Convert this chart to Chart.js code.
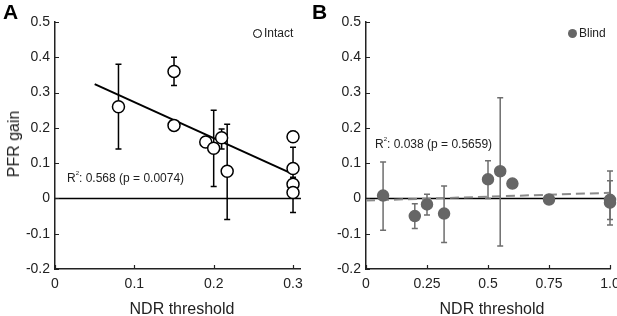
<!DOCTYPE html>
<html>
<head>
<meta charset="utf-8">
<script src="https://cdn.jsdelivr.net/npm/chart.js@4.4.1/dist/chart.umd.min.js"></script>
<style>
  html, body { margin: 0; padding: 0; background: #fff; overflow: hidden; }
  body { width: 617px; height: 316px; position: relative; font-family: "Liberation Sans", Arial, Helvetica, sans-serif; color: #222; }
  canvas { position: absolute; top: 0; }
  #chartA { left: 0; }
  #chartB { left: 310px; }
  .txt { position: absolute; white-space: nowrap; line-height: 1; }
  .letter { font-weight: bold; font-size: 21px; color: #000; }
  .title { font-size: 16px; }
  .ylab { transform: translate(-50%, -50%) rotate(-90deg); }
  .xlab { transform: translate(-50%, -50%); }
  .stat { font-size: 12px; }
  .stat sup { font-size: 6px; vertical-align: 7px; }
  .leg { font-size: 12px; }
  .mk { display: inline-block; width: 9px; height: 9px; border-radius: 50%; margin-right: 2px; vertical-align: -1px; }
</style>
</head>
<body>
<canvas id="chartA" width="310" height="316"></canvas>
<canvas id="chartB" width="317" height="316"></canvas>

<div class="txt letter" style="left:3px; top:1px;">A</div>
<div class="txt letter" style="left:312px; top:1px;">B</div>
<div class="txt title ylab" style="left:14px; top:144px;">PFR gain</div>
<div class="txt title xlab" style="left:182px; top:309px;">NDR threshold</div>
<div class="txt title xlab" style="left:492px; top:309px;">NDR threshold</div>
<div class="txt stat" style="left:67px; top:170px;">R<sup>2</sup>: 0.568 (p = 0.0074)</div>
<div class="txt stat" style="left:375px; top:136px;">R<sup>2</sup>: 0.038 (p = 0.5659)</div>
<div class="txt leg" style="left:253px; top:27px;"><span class="mk" style="border:1.3px solid #000; width:7px; height:7px;"></span>Intact</div>
<div class="txt leg" style="left:568px; top:27px;"><span class="mk" style="background:#666;"></span>Blind</div>

<script>
// Panel A - Intact
const intactX  = [0.08, 0.15, 0.15, 0.19, 0.20, 0.21, 0.217, 0.30, 0.30, 0.30, 0.30];
const intactY  = [0.26, 0.36, 0.207, 0.16, 0.142, 0.172, 0.077, 0.175, 0.085, 0.04, 0.017];
const intactLo = [0.14, 0.32, null, 0.145, 0.034, 0.14, -0.06, 0.16, 0.02, null, -0.04];
const intactHi = [0.38, 0.40, null, 0.175, 0.25, 0.197, 0.21, 0.19, 0.145, null, 0.06];
const fitAX = [0.05, 0.30];
const fitAY = [0.324, 0.069];
const xTicksA = [0, 0.1, 0.2, 0.3];
const xLabelsA = ['0', '0.1', '0.2', '0.3'];

// Panel B - Blind
const blindX  = [0.07, 0.20, 0.25, 0.32, 0.50, 0.55, 0.60, 0.75, 1.0, 1.0];
const blindY  = [0.008, -0.05, -0.017, -0.043, 0.054, 0.077, 0.042, -0.003, -0.004, -0.012];
const blindLo = [-0.09, -0.085, -0.047, -0.125, 0.0, -0.135, null, null, -0.06, -0.075];
const blindHi = [0.103, -0.015, 0.012, 0.035, 0.107, 0.285, null, null, 0.078, 0.05];
const fitBX = [0, 1.0];
const fitBY = [-0.006, 0.016];
const xTicksB = [0, 0.25, 0.5, 0.75, 1.0];
const xLabelsB = ['0', '0.25', '0.5', '0.75', '1.0'];

// Shared y axis
const yTicks = [-0.2, -0.1, 0, 0.1, 0.2, 0.3, 0.4, 0.5];
const yLabels = ['-0.2', '-0.1', '0', '0.1', '0.2', '0.3', '0.4', '0.5'];

const FONT = { family: '"Liberation Sans", Arial, Helvetica, sans-serif', size: 14 };
const AXIS_COLOR = '#222';

const pts = (xs, ys) => xs.map((x, i) => ({ x, y: ys[i] }));

// Error bars drawn just before the marker dataset
const errorBars = {
    id: 'errorBars',
    beforeDatasetDraw(chart, args, opts) {
        if (args.index !== 0) return;
        const { ctx, scales: { x, y } } = chart;
        ctx.save();
        ctx.strokeStyle = opts.color;
        ctx.lineWidth = 1.5;
        opts.xs.forEach((xv, i) => {
            if (opts.lo[i] == null) return;
            const px = x.getPixelForValue(xv);
            const p1 = y.getPixelForValue(opts.lo[i]);
            const p2 = y.getPixelForValue(opts.hi[i]);
            ctx.beginPath();
            ctx.moveTo(px, p1); ctx.lineTo(px, p2);
            ctx.moveTo(px - 3, p1); ctx.lineTo(px + 3, p1);
            ctx.moveTo(px - 3, p2); ctx.lineTo(px + 3, p2);
            ctx.stroke();
        });
        ctx.restore();
    }
};

// Inward tick marks
const innerTicks = {
    id: 'innerTicks',
    afterDraw(chart) {
        const { ctx, chartArea, scales: { x, y } } = chart;
        ctx.save();
        ctx.strokeStyle = AXIS_COLOR;
        ctx.lineWidth = 1.2;
        ctx.beginPath();
        y.ticks.forEach(t => {
            const py = Math.round(y.getPixelForValue(t.value)) + 0.5;
            ctx.moveTo(chartArea.left, py); ctx.lineTo(chartArea.left + 4, py);
        });
        x.ticks.forEach(t => {
            const px = Math.round(x.getPixelForValue(t.value)) + 0.5;
            ctx.moveTo(px, chartArea.bottom); ctx.lineTo(px, chartArea.bottom - 4);
        });
        ctx.stroke();
        ctx.restore();
    }
};

function makeChart(id, cfg) {
    return new Chart(document.getElementById(id), {
        type: 'scatter',
        data: {
            datasets: [
                {
                    data: pts(cfg.xs, cfg.ys), order: 0, clip: false,
                    pointRadius: cfg.radius, pointBackgroundColor: cfg.fill,
                    pointBorderColor: cfg.stroke, pointBorderWidth: 1.5
                },
                {
                    type: 'line', data: pts(cfg.fitX, cfg.fitY), order: 1, clip: false,
                    borderColor: cfg.fitColor, borderWidth: 2, borderDash: cfg.fitDash,
                    pointRadius: 0, fill: false
                },
                {
                    type: 'line', data: pts([cfg.xMin, cfg.xMax], [0, 0]), order: 2,
                    borderColor: '#000', borderWidth: 1.5, pointRadius: 0, fill: false
                }
            ]
        },
        options: {
            responsive: false,
            animation: false,
            layout: { padding: { top: 22, right: cfg.padRight, bottom: 0, left: 0 } },
            plugins: {
                legend: { display: false },
                tooltip: { enabled: false },
                errorBars: { xs: cfg.xs, lo: cfg.lo, hi: cfg.hi, color: cfg.errColor }
            },
            scales: {
                x: {
                    type: 'linear', min: cfg.xMin, max: cfg.xMax,
                    grid: { display: false, drawTicks: false },
                    border: { display: true, color: AXIS_COLOR, width: 1.5 },
                    ticks: { font: FONT, color: AXIS_COLOR, padding: 7, maxRotation: 0,
                             callback: (v, i) => cfg.xLabels[i] },
                    afterBuildTicks: s => { s.ticks = cfg.xTicks.map(v => ({ value: v })); },
                    afterFit: s => { s.height = 47; }
                },
                y: {
                    type: 'linear', min: -0.2, max: 0.5,
                    grid: { display: false, drawTicks: false },
                    border: { display: true, color: AXIS_COLOR, width: 1.5 },
                    ticks: { font: FONT, color: AXIS_COLOR, padding: 5,
                             callback: (v, i) => yLabels[i] },
                    afterBuildTicks: s => { s.ticks = yTicks.map(v => ({ value: v })); },
                    afterFit: s => { s.width = cfg.yWidth; }
                }
            }
        },
        plugins: [errorBars, innerTicks]
    });
}

makeChart('chartA', {
    xs: intactX, ys: intactY, lo: intactLo, hi: intactHi,
    fitX: fitAX, fitY: fitAY, fitColor: '#000', fitDash: [],
    xMin: 0, xMax: 0.31, xTicks: xTicksA, xLabels: xLabelsA,
    radius: 6, fill: '#fff', stroke: '#000', errColor: '#000',
    padRight: 7, yWidth: 55
});

makeChart('chartB', {
    xs: blindX, ys: blindY, lo: blindLo, hi: blindHi,
    fitX: fitBX, fitY: fitBY, fitColor: '#8a8a8a', fitDash: [9, 5],
    xMin: 0, xMax: 1.0, xTicks: xTicksB, xLabels: xLabelsB,
    radius: 5.5, fill: '#666', stroke: '#666', errColor: '#6e6e6e',
    padRight: 17, yWidth: 56
});
</script>
</body>
</html>
